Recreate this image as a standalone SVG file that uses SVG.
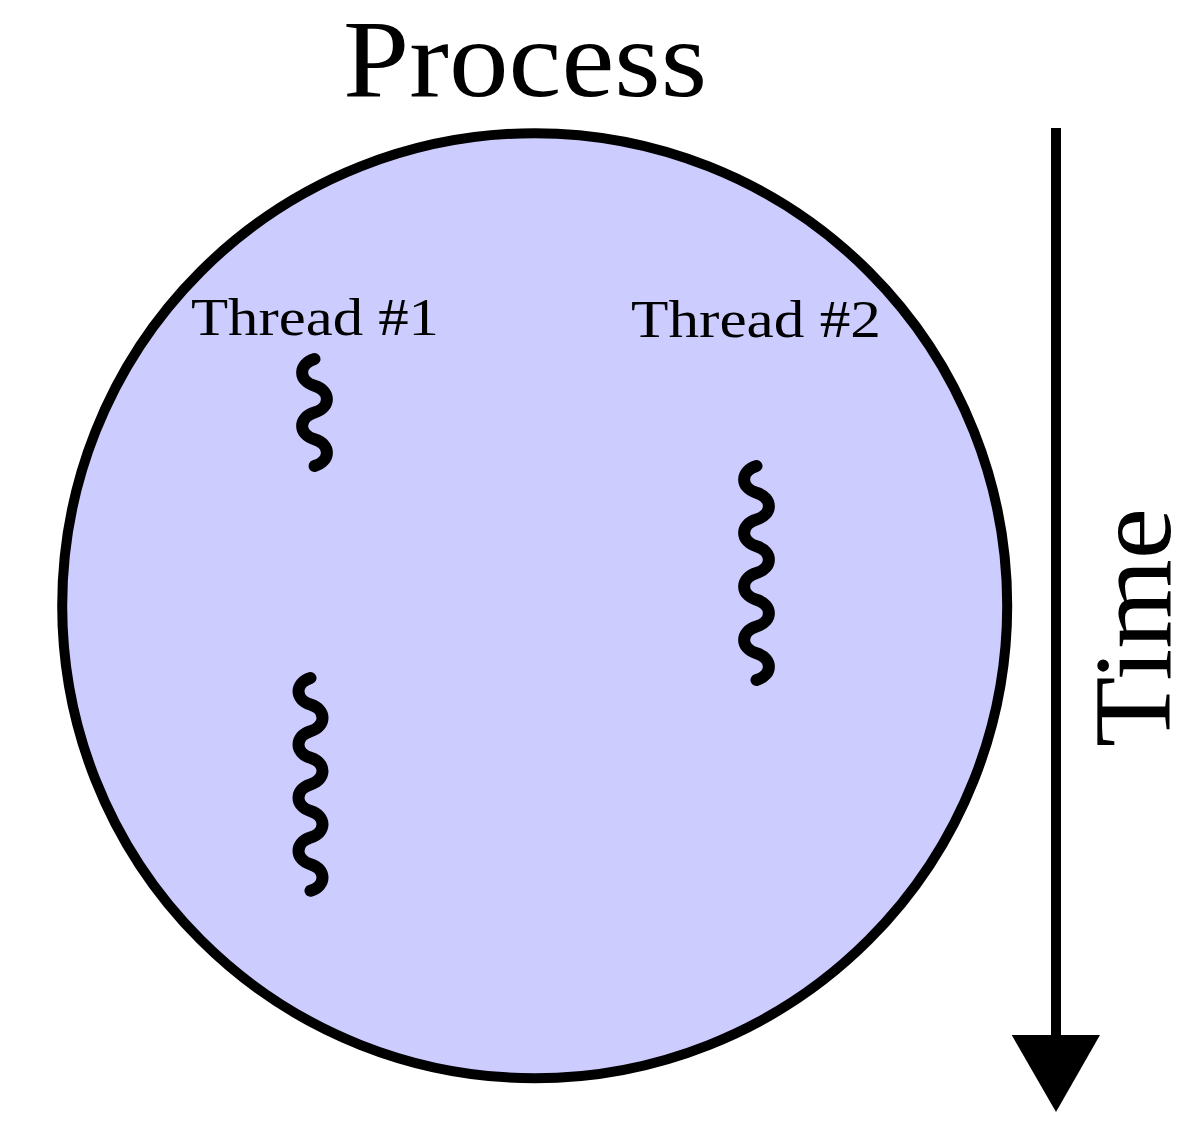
<svg xmlns="http://www.w3.org/2000/svg" width="1200" height="1133" viewBox="0 0 1200 1133">
<style>
  .lbl { font-family: "Liberation Serif", "DejaVu Serif", serif; fill: #000; }
  .thread { fill: none; stroke: #000; stroke-width: 12; stroke-linecap: round; stroke-linejoin: round; }
</style>
<rect width="1200" height="1133" fill="#fff"/>
<g id="process">
  <circle cx="534.7" cy="605.7" r="472.5" fill="#ccccff" stroke="#000" stroke-width="10"/>
  <text class="lbl" x="343" y="96" font-size="110" textLength="364" lengthAdjust="spacingAndGlyphs">Process</text>
</g>
<g id="thread1">
  <text class="lbl" x="191" y="335" font-size="53" textLength="248" lengthAdjust="spacingAndGlyphs">Thread #1</text>
  <path class="thread" d="M314.5,359 c-16.5,5 -16.5,21.75 0,26.75 s16.5,21.75 0,26.75 s-16.5,21.75 0,26.75 s16.5,21.75 0,26.75"/>
  <path class="thread" d="M310.5,678 c-16,5 -16,21.6 0,26.6 s16,21.6 0,26.6 s-16,21.6 0,26.6 s16,21.6 0,26.6 s-16,21.6 0,26.6 s16,21.6 0,26.6 s-16,21.6 0,26.6 s16,21.6 0,26.6"/>
</g>
<g id="thread2">
  <text class="lbl" x="631" y="337" font-size="53" textLength="250" lengthAdjust="spacingAndGlyphs">Thread #2</text>
  <path class="thread" d="M756.5,466 c-16.5,5 -16.5,21.75 0,26.75 s16.5,21.75 0,26.75 s-16.5,21.75 0,26.75 s16.5,21.75 0,26.75 s-16.5,21.75 0,26.75 s16.5,21.75 0,26.75 s-16.5,21.75 0,26.75 s16.5,21.75 0,26.75"/>
</g>
<g id="connectors">
  <line x1="1056" y1="128" x2="1056" y2="1036" stroke="#000" stroke-width="10"/>
  <polygon points="1011.7,1035 1100,1035 1056,1112" fill="#000"/>
</g>
<g id="time">
  <text class="lbl" transform="translate(1170,747) rotate(-90)" x="0" y="0" font-size="110" textLength="239" lengthAdjust="spacingAndGlyphs">Time</text>
</g>
</svg>
